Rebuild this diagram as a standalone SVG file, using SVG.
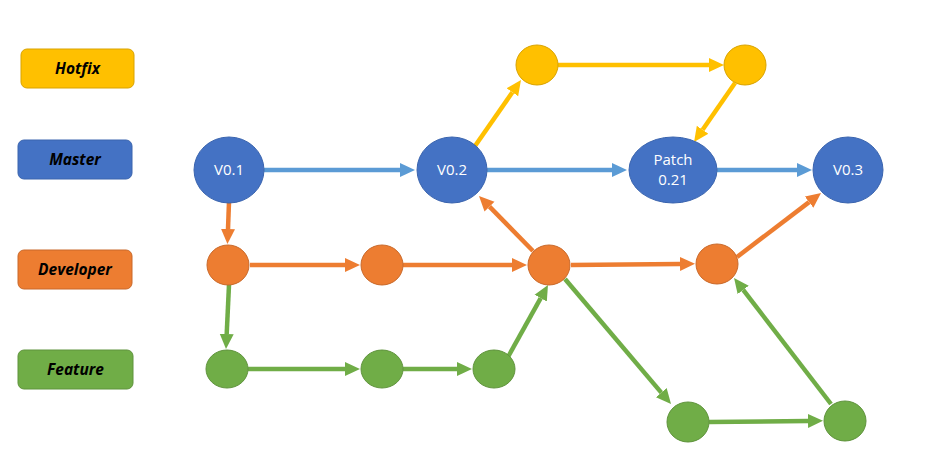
<svg xmlns="http://www.w3.org/2000/svg" width="945" height="472" viewBox="0 0 945 472">
<style>
.lbl{font-family:"Open Sans","Liberation Sans",sans-serif;font-weight:bold;font-style:italic;font-size:15.5px;fill:#000;text-anchor:middle}
.nt{font-family:"Open Sans","Liberation Sans",sans-serif;font-size:15px;fill:#fff;text-anchor:middle}
.blue{fill:#4472C4;stroke:#3A64AE;stroke-width:1}
.org{fill:#ED7D31;stroke:#C9692A;stroke-width:1}
.yel{fill:#FFC000;stroke:#D9A300;stroke-width:1}
.grn{fill:#70AD47;stroke:#5F933C;stroke-width:1}
.cb{stroke:#5B9BD5;stroke-width:4.5;fill:none;marker-end:url(#ab)}
.co{stroke:#ED7D31;stroke-width:4.5;fill:none;marker-end:url(#ao)}
.cy{stroke:#FFC000;stroke-width:4.5;fill:none;marker-end:url(#ay)}
.cg{stroke:#70AD47;stroke-width:4.5;fill:none;marker-end:url(#ag)}
</style>
<defs>
<marker id="ab" markerUnits="userSpaceOnUse" markerWidth="16" markerHeight="16" refX="0" refY="8" orient="auto" viewBox="0 0 16 16"><path d="M0,1 L15,8 L0,15 z" fill="#5B9BD5"/></marker>
<marker id="ao" markerUnits="userSpaceOnUse" markerWidth="16" markerHeight="16" refX="0" refY="8" orient="auto" viewBox="0 0 16 16"><path d="M0,1 L15,8 L0,15 z" fill="#ED7D31"/></marker>
<marker id="ay" markerUnits="userSpaceOnUse" markerWidth="16" markerHeight="16" refX="0" refY="8" orient="auto" viewBox="0 0 16 16"><path d="M0,1 L15,8 L0,15 z" fill="#FFC000"/></marker>
<marker id="ag" markerUnits="userSpaceOnUse" markerWidth="16" markerHeight="16" refX="0" refY="8" orient="auto" viewBox="0 0 16 16"><path d="M0,1 L15,8 L0,15 z" fill="#70AD47"/></marker>
</defs>
<rect width="945" height="472" fill="#fff"/>
<g id="legend">
<g id="lg-hotfix"><rect class="yel" x="21" y="49" width="113" height="39" rx="6"/><text class="lbl" x="77.5" y="74">Hotfix</text></g>
<g id="lg-master"><rect class="blue" x="18" y="140" width="114" height="39" rx="6"/><text class="lbl" x="75" y="165">Master</text></g>
<g id="lg-developer"><rect class="org" x="18" y="250" width="114" height="39" rx="6"/><text class="lbl" x="75" y="275">Developer</text></g>
<g id="lg-feature"><rect class="grn" x="18" y="350" width="115" height="39" rx="6"/><text class="lbl" x="75.5" y="375">Feature</text></g>
</g>
<g id="connectors">
<line class="cb" x1="264" y1="170" x2="400" y2="170"/>
<line class="cb" x1="487" y1="170" x2="612" y2="170"/>
<line class="cb" x1="717" y1="170" x2="797" y2="170"/>
<line class="co" x1="229" y1="202" x2="228" y2="229"/>
<line class="co" x1="250" y1="265" x2="345" y2="265"/>
<line class="co" x1="403" y1="265" x2="512" y2="265"/>
<line class="co" x1="533" y1="251" x2="489.5" y2="206.7"/>
<line class="co" x1="571" y1="265" x2="680" y2="264"/>
<line class="co" x1="737" y1="257" x2="809.1" y2="202.1"/>
<line class="cy" x1="475" y1="146" x2="512.4" y2="92.3"/>
<line class="cy" x1="558" y1="65" x2="709" y2="65"/>
<line class="cy" x1="735" y1="83" x2="702.6" y2="129.7"/>
<line class="cg" x1="229" y1="285" x2="226.7" y2="334"/>
<line class="cg" x1="248" y1="369" x2="345" y2="369"/>
<line class="cg" x1="403" y1="369" x2="457" y2="369"/>
<line class="cg" x1="508" y1="357" x2="540.7" y2="298.1"/>
<line class="cg" x1="565" y1="279" x2="661.3" y2="392.6"/>
<line class="cg" x1="709" y1="422" x2="808" y2="421"/>
<line class="cg" x1="831" y1="404" x2="743.2" y2="289.9"/>
</g>
<g id="v01"><ellipse class="blue" cx="229" cy="170" rx="35" ry="33"/><text class="nt" x="229" y="175">V0.1</text></g>
<g id="v02"><ellipse class="blue" cx="452" cy="170" rx="35" ry="33"/><text class="nt" x="452" y="175">V0.2</text></g>
<g id="patch"><ellipse class="blue" cx="673" cy="170" rx="44" ry="33"/><text class="nt" x="673" y="165">Patch</text><text class="nt" x="673" y="185">0.21</text></g>
<g id="v03"><ellipse class="blue" cx="848" cy="170" rx="35" ry="33"/><text class="nt" x="848" y="175">V0.3</text></g>
<g id="hf1"><ellipse class="yel" cx="537" cy="65" rx="21" ry="20"/></g>
<g id="hf2"><ellipse class="yel" cx="745" cy="65" rx="21" ry="20"/></g>
<g id="dev1"><ellipse class="org" cx="228" cy="265" rx="21" ry="20"/></g>
<g id="dev2"><ellipse class="org" cx="382" cy="265" rx="21" ry="20"/></g>
<g id="dev3"><ellipse class="org" cx="549" cy="265" rx="21" ry="20"/></g>
<g id="dev4"><ellipse class="org" cx="717" cy="264" rx="21" ry="20"/></g>
<g id="f1"><ellipse class="grn" cx="227" cy="369" rx="21" ry="19"/></g>
<g id="f2"><ellipse class="grn" cx="382" cy="369" rx="21" ry="19"/></g>
<g id="f3"><ellipse class="grn" cx="494" cy="369" rx="21" ry="19"/></g>
<g id="f4"><ellipse class="grn" cx="688" cy="422" rx="21" ry="20"/></g>
<g id="f5"><ellipse class="grn" cx="845" cy="421" rx="21" ry="20"/></g>
</svg>
